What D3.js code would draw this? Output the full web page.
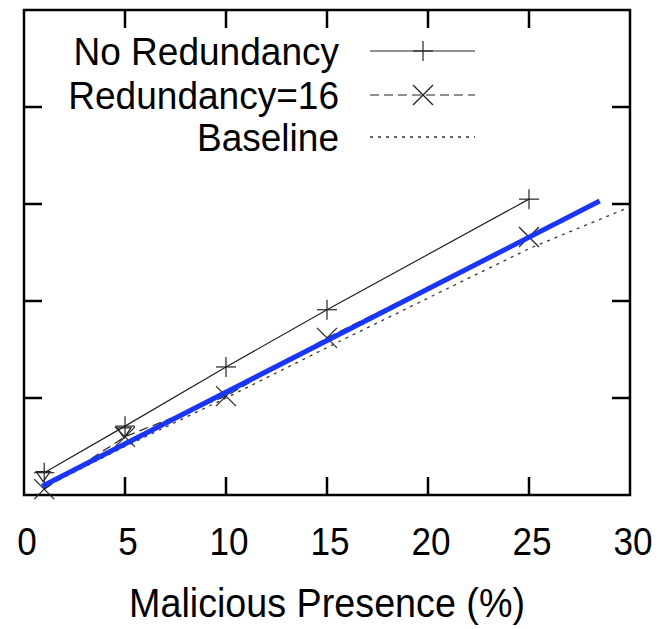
<!DOCTYPE html>
<html><head><meta charset="utf-8">
<script src="https://cdn.jsdelivr.net/npm/d3@7"></script>
<style>body{margin:0;background:#fff}svg{display:block}text{font-family:"Liberation Sans",Arial,sans-serif;fill:#000}</style>
</head><body><svg id="c" width="663" height="629"></svg>
<script>
const xTicks = [0, 5, 10, 15, 20, 25, 30];
const yTicks = [0, 10, 20, 30, 40, 50];
const xs = [1, 5, 10, 15, 25];
const noRedundancy = [2.3, 7.1, 13.2, 19.1, 30.5];
const redundancy16 = [0.6, 6.0, 10.2, 16.2, 26.6];
const baselineX = [1, 5, 10, 15, 25, 30];
const baselineY = [0.8, 5, 10, 15.2, 25.4, 29.7];
const triX = [1, 5];
const triY = [2.0, 6.5];
const fitX = [0.9, 28.5];
const fitY = [0.9, 30.3];
const legendLabels = ["No Redundancy", "Redundancy=16", "Baseline"];

const svg = d3.select("#c");
const L = 24, R = 630, T = 10, B = 495;
const x = d3.scaleLinear().domain([0, 30]).range([L, R]);
const y = d3.scaleLinear().domain([0, 50]).range([B, T]);
const tl = 18;

function label(px, py, txt, size, sx, anchor) {
  svg.append("g").attr("transform", `translate(${px},${py}) scale(${sx},1)`)
    .append("text").attr("text-anchor", anchor).attr("font-size", size).text(txt);
}

// ticks
const g = svg.append("g").attr("stroke", "#000").attr("stroke-width", 2.5);
xTicks.slice(1, -1).forEach(t => {
  g.append("line").attr("x1", x(t)).attr("x2", x(t)).attr("y1", B).attr("y2", B - tl);
  g.append("line").attr("x1", x(t)).attr("x2", x(t)).attr("y1", T).attr("y2", T + tl);
});
yTicks.slice(1, -1).forEach(t => {
  g.append("line").attr("x1", L).attr("x2", L + tl).attr("y1", y(t)).attr("y2", y(t));
  g.append("line").attr("x1", R).attr("x2", R - tl).attr("y1", y(t)).attr("y2", y(t));
});
svg.append("rect").attr("x", L).attr("y", T).attr("width", R - L).attr("height", B - T)
  .attr("fill", "none").attr("stroke", "#000").attr("stroke-width", 2.5);

// x tick labels
xTicks.forEach(d => label(x(d) + 3, 555, d, 39, 0.9, "middle"));
label(327, 617, "Malicious Presence (%)", 41, 0.92, "middle");

const line = d3.line().x(d => x(d[0])).y(d => y(d[1]));
function plus(gg, cx, cy, r) {
  gg.append("line").attr("x1", cx - r).attr("x2", cx + r).attr("y1", cy).attr("y2", cy);
  gg.append("line").attr("x1", cx).attr("x2", cx).attr("y1", cy - r).attr("y2", cy + r);
}
function cross(gg, cx, cy, r) {
  gg.append("line").attr("x1", cx - r).attr("x2", cx + r).attr("y1", cy - r).attr("y2", cy + r);
  gg.append("line").attr("x1", cx - r).attr("x2", cx + r).attr("y1", cy + r).attr("y2", cy - r);
}

// baseline
svg.append("path").attr("d", line(d3.zip(baselineX, baselineY)))
  .attr("fill", "none").attr("stroke", "#333").attr("stroke-width", 1.3).attr("stroke-dasharray", "3,5");
// redundancy 16
svg.append("path").attr("d", line(d3.zip(xs, redundancy16)))
  .attr("fill", "none").attr("stroke", "#222").attr("stroke-width", 1.2).attr("stroke-dasharray", "9,5");
const gx = svg.append("g").attr("stroke", "#222").attr("stroke-width", 1.2);
xs.forEach((v, i) => cross(gx, x(v), y(redundancy16[i]), 10));
// no redundancy
svg.append("path").attr("d", line(d3.zip(xs, noRedundancy)))
  .attr("fill", "none").attr("stroke", "#222").attr("stroke-width", 1.2);
const gp = svg.append("g").attr("stroke", "#222").attr("stroke-width", 1.2);
xs.forEach((v, i) => plus(gp, x(v), y(noRedundancy[i]), 10));
// triangles
svg.append("g").selectAll("path").data(d3.zip(triX, triY)).join("path")
  .attr("d", d => { const cx = x(d[0]) - 1, cy = y(d[1]); return `M${cx-7},${cy-4}L${cx+7},${cy-4}L${cx},${cy+6}Z`; })
  .attr("fill", "none").attr("stroke", "#222").attr("stroke-width", 1.2);
// blue fit line
svg.append("path").attr("d", line(d3.zip(fitX, fitY)))
  .attr("fill", "none").attr("stroke", "#1a35f5").attr("stroke-width", 5);

// legend
const rowY = [51, 95, 137];
legendLabels.forEach((lab, i) => label(339, rowY[i] + 14, lab, 39, 0.95, "end"));
svg.append("line").attr("x1", 370).attr("x2", 475).attr("y1", rowY[0]).attr("y2", rowY[0])
  .attr("stroke", "#222").attr("stroke-width", 1.2);
plus(svg.append("g").attr("stroke", "#222").attr("stroke-width", 1.2), 423, rowY[0], 10);
svg.append("line").attr("x1", 370).attr("x2", 475).attr("y1", rowY[1]).attr("y2", rowY[1])
  .attr("stroke", "#222").attr("stroke-width", 1.2).attr("stroke-dasharray", "9,5");
cross(svg.append("g").attr("stroke", "#222").attr("stroke-width", 1.2), 423, rowY[1], 10);
svg.append("line").attr("x1", 370).attr("x2", 475).attr("y1", rowY[2]).attr("y2", rowY[2])
  .attr("stroke", "#333").attr("stroke-width", 1.3).attr("stroke-dasharray", "3,5");
</script></body></html>
